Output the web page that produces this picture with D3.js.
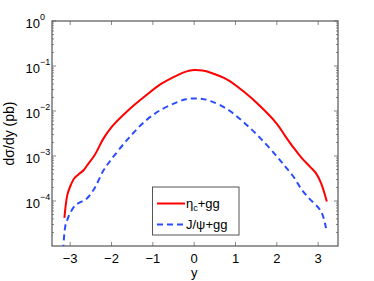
<!DOCTYPE html>
<html>
<head>
<meta charset="utf-8">
<script src="https://cdn.jsdelivr.net/npm/d3@7"></script>
<style>
  body { margin: 0; background: #fff; }
  svg { font-family: "Liberation Sans", Arial, sans-serif; }
</style>
</head>
<body>
<svg id="chart"></svg>
<script>
// rapidity grid + dsigma/dy (pb)
const etaY = [-3.14, -3.07, -3.0, -2.9, -2.8, -2.67, -2.6, -2.4, -2.2, -2.0, -1.6, -1.2, -0.8, -0.4, -0.2, 0,
  0.2, 0.4, 0.8, 1.2, 1.6, 2.0, 2.2, 2.4, 2.6, 2.8, 2.95, 3.07, 3.15, 3.21]
const etaVals = [4.2e-5, 1.35e-4, 2.1e-4, 3.2e-4, 3.9e-4, 4.9e-4, 6.0e-4, 1.08e-3, 2.4e-3, 4.4e-3, 0.0103, 0.021, 0.040, 0.063, 0.075, 0.081,
  0.079, 0.071, 0.050, 0.027, 0.0127, 0.0052, 0.0028, 1.55e-3, 9.1e-4, 5.8e-4, 4.1e-4, 2.5e-4, 1.5e-4, 9.7e-5]

const jpsiY = [-3.17, -3.12, -3.07, -3.0, -2.87, -2.7, -2.59, -2.4, -2.2, -2.0, -1.6, -1.2, -0.8, -0.4, -0.2, 0,
  0.2, 0.4, 0.8, 1.2, 1.6, 2.0, 2.2, 2.4, 2.6, 2.8, 3.0, 3.1, 3.19]
const jpsiVals = [8e-6, 2.7e-5, 3.8e-5, 5.4e-5, 8.1e-5, 1.0e-4, 1.15e-4, 2.0e-4, 4.7e-4, 8.5e-4, 2.4e-3, 5.8e-3, 0.0107, 0.0158, 0.0182, 0.019,
  0.0185, 0.0166, 0.011, 5.6e-3, 2.5e-3, 9.8e-4, 5.9e-4, 3.5e-4, 1.8e-4, 1.1e-4, 7.2e-5, 5.1e-5, 2.5e-5]

const xTicks = [-3, -2, -1, 0, 1, 2, 3]
const yTickExps = [0, -1, -2, -3, -4]
const seriesNames = ['\u03B7', 'J/\u03C8+gg']

const width = 374, height = 281
const margin = { top: 21, right: 36, bottom: 35, left: 52 }
const fs = 13

const svg = d3.select('#chart')
  .attr('width', width)
  .attr('height', height)

const x = d3.scaleLinear()
  .domain([-3.44, 3.48])
  .range([margin.left, width - margin.right])

const y = d3.scaleLog()
  .domain([1e-5, 1])
  .range([height - margin.bottom, margin.top])

const plotLeft = margin.left, plotRight = width - margin.right
const plotTop = margin.top, plotBottom = height - margin.bottom

svg.append('clipPath').attr('id', 'plot-clip')
  .append('rect')
  .attr('x', plotLeft)
  .attr('y', plotTop)
  .attr('width', plotRight - plotLeft)
  .attr('height', plotBottom - plotTop)

// minor log ticks
const minorTicks = []
for (let e = -5; e < 0; e++) {
  for (let m = 2; m <= 9; m++) minorTicks.push(m * Math.pow(10, e))
}

const ticks = svg.append('g').attr('stroke', '#555').attr('stroke-width', 0.7)
minorTicks.forEach(v => {
  ticks.append('line').attr('x1', plotLeft).attr('x2', plotLeft + 2).attr('y1', y(v)).attr('y2', y(v))
  ticks.append('line').attr('x1', plotRight).attr('x2', plotRight - 2).attr('y1', y(v)).attr('y2', y(v))
})
yTickExps.forEach(e => {
  const v = Math.pow(10, e)
  ticks.append('line').attr('x1', plotLeft).attr('x2', plotLeft + 4).attr('y1', y(v)).attr('y2', y(v))
  ticks.append('line').attr('x1', plotRight).attr('x2', plotRight - 4).attr('y1', y(v)).attr('y2', y(v))
})
xTicks.forEach(t => {
  ticks.append('line').attr('x1', x(t)).attr('x2', x(t)).attr('y1', plotBottom).attr('y2', plotBottom - 4)
  ticks.append('line').attr('x1', x(t)).attr('x2', x(t)).attr('y1', plotTop).attr('y2', plotTop + 4)
})

svg.append('rect')
  .attr('x', plotLeft).attr('y', plotTop)
  .attr('width', plotRight - plotLeft).attr('height', plotBottom - plotTop)
  .attr('fill', 'none').attr('stroke', '#555').attr('stroke-width', 1.2)

// y tick labels 10^n
yTickExps.forEach(e => {
  svg.append('text')
    .attr('x', plotLeft - 12)
    .attr('y', y(Math.pow(10, e)) + 6.5)
    .attr('text-anchor', 'end')
    .attr('font-size', fs)
    .text('10')
  svg.append('text')
    .attr('x', plotLeft - 12)
    .attr('y', y(Math.pow(10, e)) - 1)
    .attr('font-size', 9)
    .text(e === 0 ? '0' : '\u2212' + (-e))
})

xTicks.forEach(t => {
  svg.append('text')
    .attr('x', x(t))
    .attr('y', plotBottom + 16.5)
    .attr('text-anchor', 'middle')
    .attr('font-size', fs)
    .text(t < 0 ? '\u2212' + (-t) : t)
})

svg.append('text')
  .attr('x', x(0))
  .attr('y', 277)
  .attr('text-anchor', 'middle')
  .attr('font-size', fs)
  .text('y')

svg.append('text')
  .attr('transform', `translate(14, ${(plotTop + plotBottom) / 2}) rotate(-90)`)
  .attr('text-anchor', 'middle')
  .attr('font-size', 14)
  .text('d\u03C3/dy (pb)')

const line = d3.line()
  .x(d => x(d[0]))
  .y(d => y(d[1]))
  .curve(d3.curveCatmullRom.alpha(0.5))

const plot = svg.append('g').attr('clip-path', 'url(#plot-clip)')

plot.append('path')
  .datum(d3.zip(etaY, etaVals))
  .attr('d', line)
  .attr('fill', 'none')
  .attr('stroke', '#ff0000')
  .attr('stroke-width', 2)

plot.append('path')
  .datum(d3.zip(jpsiY, jpsiVals))
  .attr('d', line)
  .attr('fill', 'none')
  .attr('stroke', '#2a4cff')
  .attr('stroke-width', 2)
  .attr('stroke-dasharray', '6,4')

// legend
const legend = svg.append('g')
legend.append('rect')
  .attr('x', 152.5).attr('y', 187)
  .attr('width', 86.5).attr('height', 48)
  .attr('fill', '#fff').attr('stroke', '#555').attr('stroke-width', 1)

legend.append('line')
  .attr('x1', 157).attr('x2', 185).attr('y1', 203.5).attr('y2', 203.5)
  .attr('stroke', '#ff0000').attr('stroke-width', 2)
legend.append('line')
  .attr('x1', 157).attr('x2', 185).attr('y1', 224.5).attr('y2', 224.5)
  .attr('stroke', '#2a4cff').attr('stroke-width', 2).attr('stroke-dasharray', '6,4')

const l1 = legend.append('text')
  .attr('x', 186).attr('y', 208)
  .attr('font-size', fs)
l1.append('tspan').text(seriesNames[0])
l1.append('tspan').attr('font-size', 9).attr('dy', 3).text('c')
l1.append('tspan').attr('dy', -3).text('+gg')

legend.append('text')
  .attr('x', 186).attr('y', 229)
  .attr('font-size', fs)
  .text(seriesNames[1])
</script>
</body>
</html>
